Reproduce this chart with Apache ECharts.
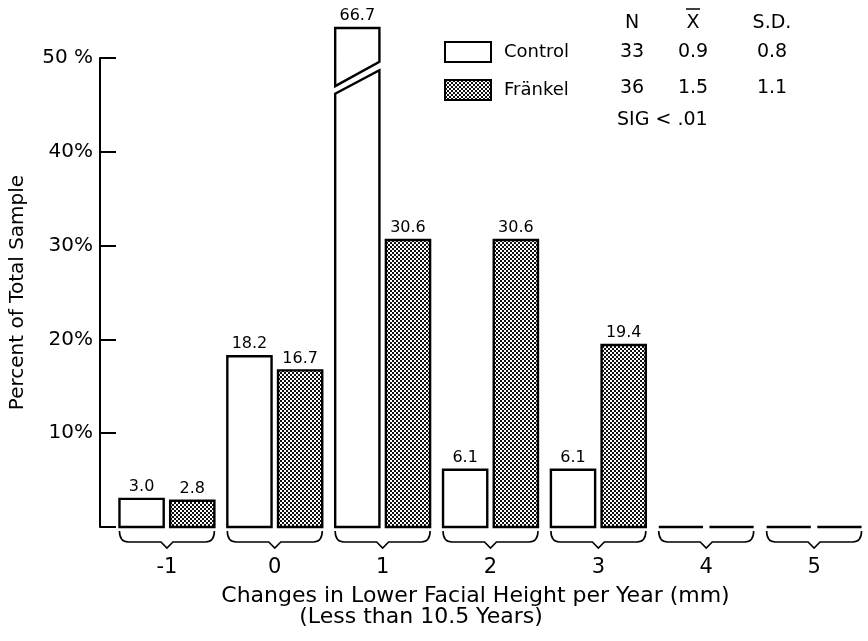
<!DOCTYPE html>
<html>
<head>
<meta charset="utf-8">
<script src="https://cdn.jsdelivr.net/npm/echarts@6/dist/echarts.min.js"></script>
<style>
  html, body { margin: 0; padding: 0; background: #fff; }
  #chart { width: 868px; height: 641px; }
</style>
</head>
<body>
<div id="chart"></div>
<script>
const categories = ['-1', '0', '1', '2', '3', '4', '5']
const control = [3.0, 18.2, 66.7, 6.1, 6.1, 0, 0]
const frankel = [2.8, 16.7, 30.6, 30.6, 19.4, 0, 0]
const seriesNames = ['Control', 'Fränkel']

const statHeads = ['N', 'X', 'S.D.']
const statControl = ['33', '0.9', '0.8']
const statFrankel = ['36', '1.5', '1.1']
const sigNote = 'SIG < .01'

const yMax = 50
const yStep = 10
// off-scale bars are drawn broken, up to this height
const breakTop = 53.2

const font = '"DejaVu Sans", sans-serif'

// stipple fill for the Fränkel bars
const dotCanvas = document.createElement('canvas')
dotCanvas.width = 4
dotCanvas.height = 4
const dctx = dotCanvas.getContext('2d')
dctx.fillStyle = '#fff'
dctx.fillRect(0, 0, 4, 4)
dctx.fillStyle = '#111'
dctx.fillRect(0, 0, 2, 2)
dctx.fillRect(2, 2, 2, 2)
const dots = { image: dotCanvas, repeat: 'repeat' }

const barItem = (side, fill) => (params, api) => {
  const i = api.value(0)
  const v = api.value(1)
  const base = api.coord([i, 0])
  const band = api.size([1, 0])[0]
  const w = band * 0.41
  const gap = band * 0.06
  const x = side < 0 ? base[0] - gap / 2 - w : base[0] + gap / 2
  const style = { fill, stroke: '#000', lineWidth: 2.4 }
  const children = []
  let topY
  if (v > yMax) {
    topY = api.coord([i, breakTop])[1]
    const lowL = api.coord([i, 46.2])[1]
    const lowR = api.coord([i, 48.7])[1]
    const upL = api.coord([i, 47.0])[1]
    const upR = api.coord([i, 49.6])[1]
    children.push({
      type: 'polygon',
      shape: { points: [[x, base[1]], [x, lowL], [x + w, lowR], [x + w, base[1]]] },
      style
    })
    children.push({
      type: 'polygon',
      shape: { points: [[x, upL], [x, topY], [x + w, topY], [x + w, upR]] },
      style
    })
  } else {
    topY = api.coord([i, v])[1]
    children.push({
      type: 'rect',
      shape: { x, y: topY, width: w, height: base[1] - topY },
      style
    })
  }
  if (v > 0) {
    children.push({
      type: 'text',
      x: x + w / 2,
      y: topY - 4,
      style: {
        text: v.toFixed(1),
        fill: '#000',
        fontSize: 16,
        fontFamily: font,
        align: 'center',
        verticalAlign: 'bottom'
      }
    })
  }
  return { type: 'group', children }
}

// curly brace under each pair of bars
const braceItem = (params, api) => {
  const i = api.value(0)
  const base = api.coord([i, 0])
  const band = api.size([1, 0])[0]
  const w = band * 0.41
  const gap = band * 0.06
  const x0 = base[0] - gap / 2 - w
  const x1 = base[0] + gap / 2 + w
  const cx = base[0]
  const y0 = base[1] + 4
  const yh = base[1] + 15
  const ym = base[1] + 21
  const d = `M${x0} ${y0} Q${x0} ${yh} ${x0 + 9} ${yh} L${cx - 6} ${yh} L${cx} ${ym} L${cx + 6} ${yh} L${x1 - 9} ${yh} Q${x1} ${yh} ${x1} ${y0}`
  return {
    type: 'path',
    shape: { pathData: d },
    style: { fill: null, stroke: '#000', lineWidth: 1.6 }
  }
}

const chart = echarts.init(document.getElementById('chart'))

const statText = (text, x, y, align, size) => ({
  type: 'text',
  x,
  y,
  style: {
    text,
    fill: '#000',
    fontSize: size || 19,
    fontFamily: font,
    align: align || 'center',
    verticalAlign: 'middle'
  }
})

const statCols = [632, 693, 772]
const graphics = [
  ...statHeads.map((t, k) => statText(t, statCols[k], 23)),
  // bar over the mean symbol
  { type: 'line', shape: { x1: 686, y1: 9, x2: 700, y2: 9 }, style: { stroke: '#000', lineWidth: 1.5 } },
  ...statControl.map((t, k) => statText(t, statCols[k], 52)),
  ...statFrankel.map((t, k) => statText(t, statCols[k], 88)),
  statText(sigNote, 617, 120, 'left'),
  statText('(Less than 10.5 Years)', 421, 617, 'center', 22)
]

chart.setOption({
  animation: false,
  textStyle: { fontFamily: font, color: '#000' },
  grid: { left: 112, right: -8, top: 58, bottom: 114, containLabel: false },
  legend: {
    data: seriesNames,
    orient: 'vertical',
    left: 444,
    top: 41,
    padding: 0,
    itemWidth: 46,
    itemHeight: 20,
    itemGap: 16,
    icon: 'rect',
    selectedMode: false,
    textStyle: { fontSize: 18, color: '#000', padding: [0, 0, 0, 8] }
  },
  xAxis: {
    type: 'category',
    data: categories,
    axisLine: { show: false },
    axisTick: { show: false },
    axisLabel: { fontSize: 21, color: '#000', margin: 30 },
    name: 'Changes in Lower Facial Height per Year (mm)',
    nameLocation: 'middle',
    nameGap: 58,
    nameTextStyle: { fontSize: 22, color: '#000', padding: [0, 30, 0, 0] }
  },
  yAxis: {
    type: 'value',
    min: 0,
    max: yMax,
    interval: yStep,
    offset: 13,
    axisLine: { show: true, lineStyle: { color: '#000', width: 2 } },
    axisTick: { show: true, inside: true, length: 16, lineStyle: { color: '#000', width: 2 } },
    splitLine: { show: false },
    axisLabel: {
      fontSize: 20,
      color: '#000',
      margin: 7,
      formatter: (v) => (v === 0 ? '' : v === yMax ? v + ' %' : v + '%')
    },
    name: 'Percent of Total Sample',
    nameLocation: 'middle',
    nameRotate: 90,
    nameGap: 72,
    nameTextStyle: { fontSize: 20, color: '#000' }
  },
  graphic: graphics,
  series: [
    {
      name: seriesNames[0],
      type: 'custom',
      clip: false,
      itemStyle: { color: '#fff', borderColor: '#000', borderWidth: 2.4 },
      renderItem: barItem(-1, '#fff'),
      encode: { x: 0, y: 1 },
      data: control.map((v, i) => [i, v])
    },
    {
      name: seriesNames[1],
      type: 'custom',
      clip: false,
      itemStyle: { color: dots, borderColor: '#000', borderWidth: 2.4 },
      renderItem: barItem(1, dots),
      encode: { x: 0, y: 1 },
      data: frankel.map((v, i) => [i, v])
    },
    {
      name: 'braces',
      type: 'custom',
      clip: false,
      silent: true,
      renderItem: braceItem,
      encode: { x: 0 },
      data: categories.map((c, i) => [i])
    }
  ]
})
</script>
</body>
</html>
